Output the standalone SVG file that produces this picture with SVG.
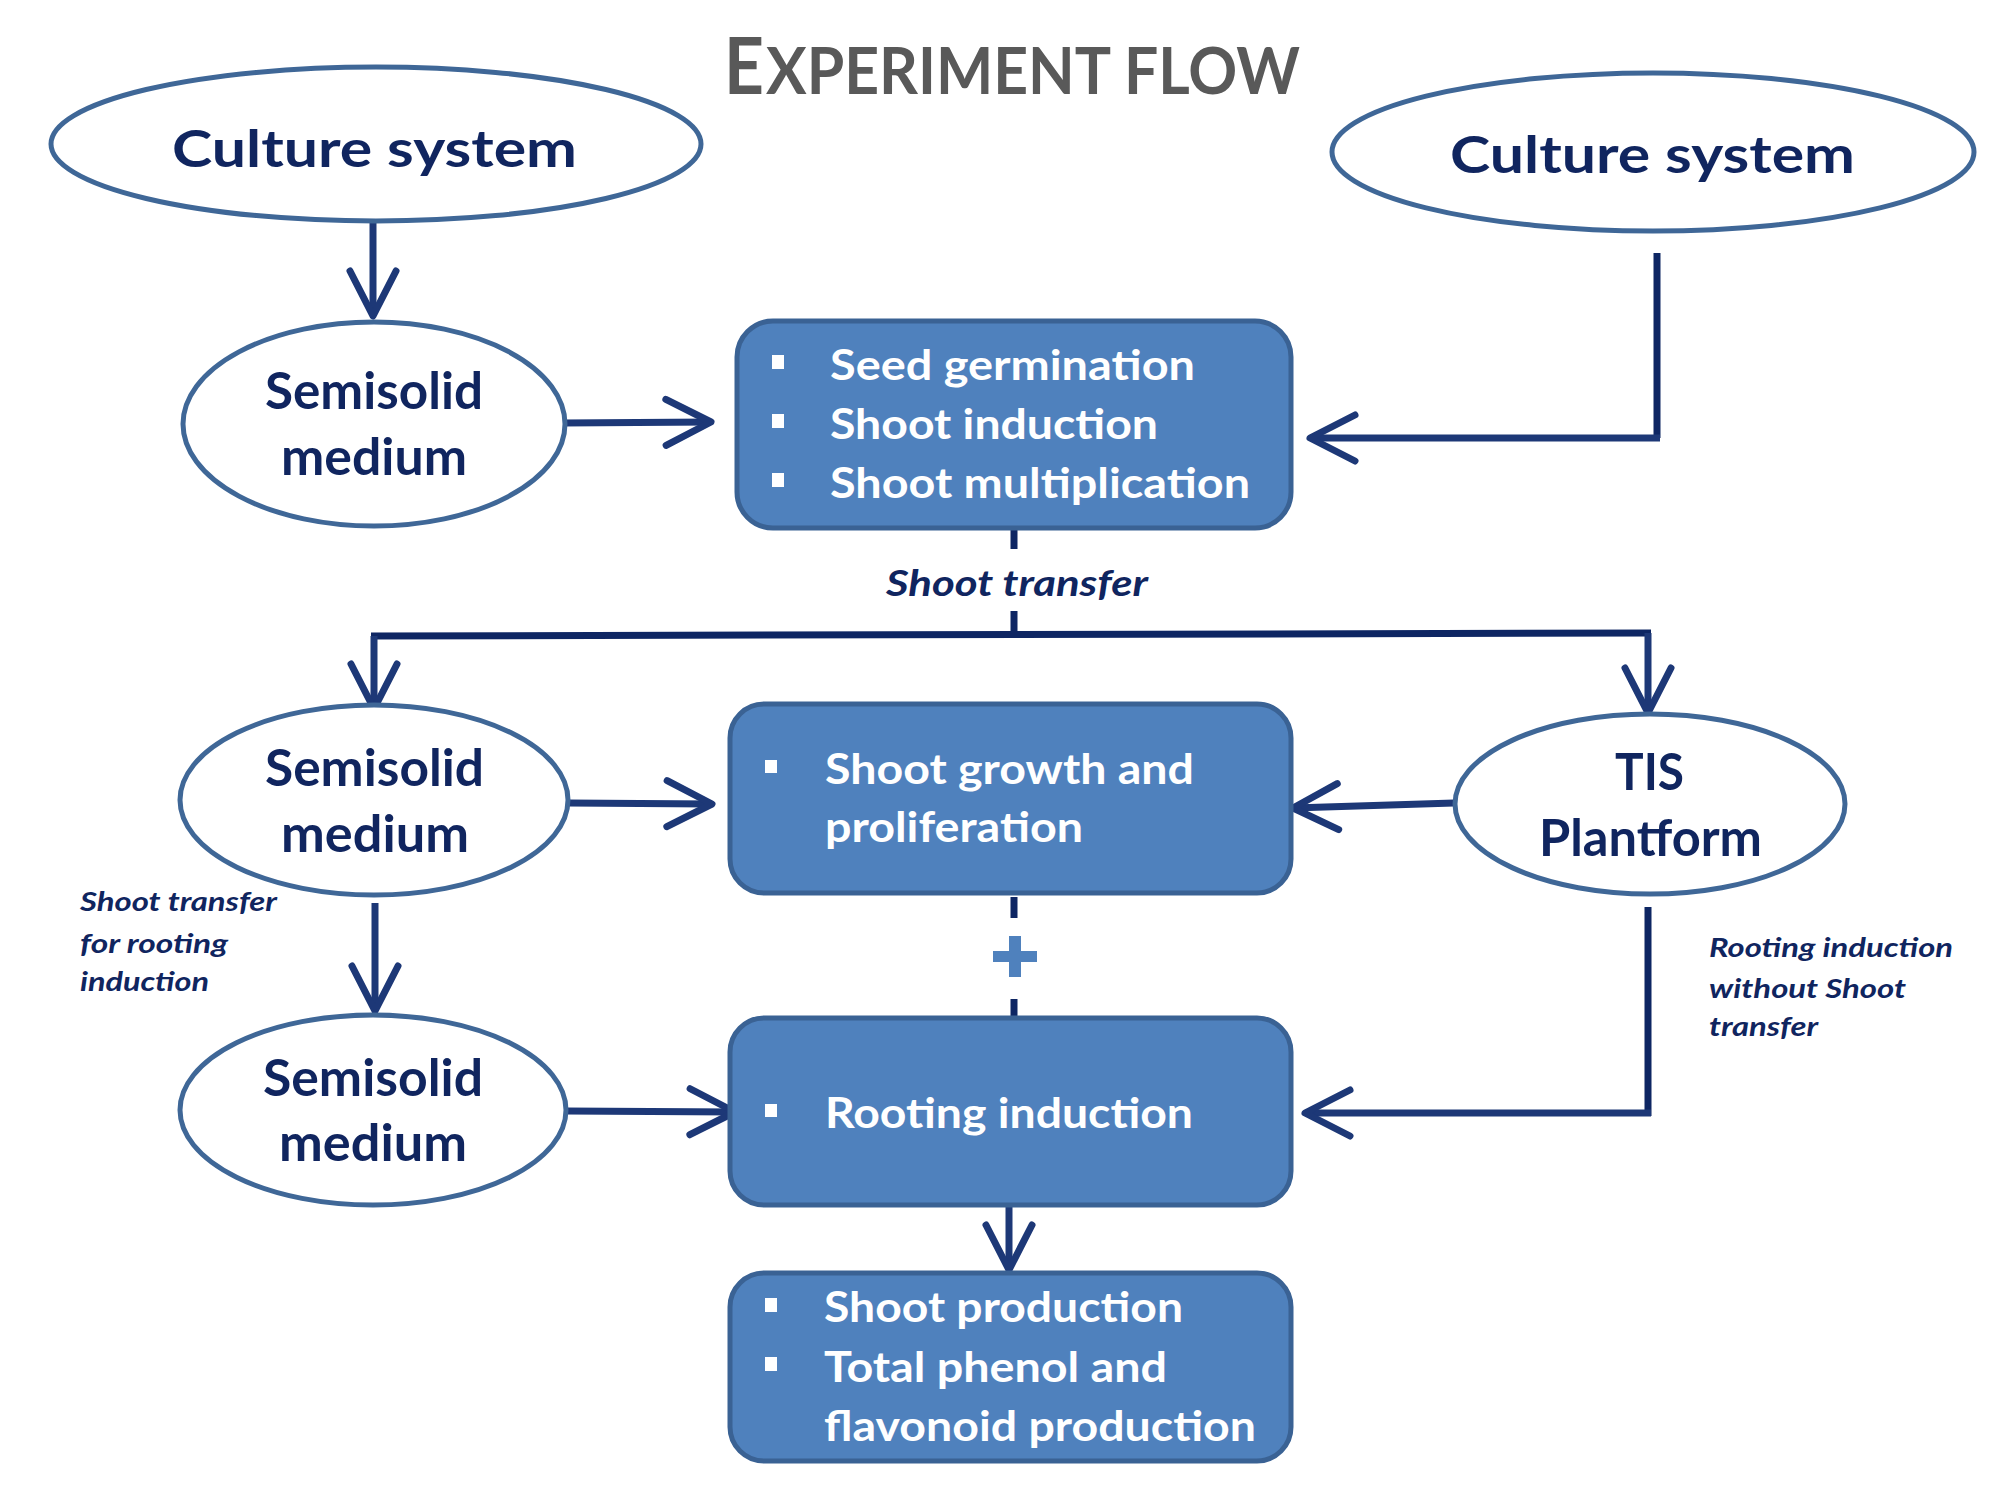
<svg xmlns="http://www.w3.org/2000/svg" width="2000" height="1500" viewBox="0 0 2000 1500">
<style>
.ell{fill:#ffffff;stroke:#3F6797;stroke-width:5}
.box{fill:#4F81BD;stroke:#3A6294;stroke-width:5}
.nt{font-family:Lato,"Open Sans","Liberation Sans",sans-serif;font-weight:bold;font-size:51px;fill:#10255F}
.bt{font-family:Lato,"Open Sans","Liberation Sans",sans-serif;font-weight:bold;font-size:42px;fill:#ffffff}
.lab{font-family:Lato,"Open Sans","Liberation Sans",sans-serif;font-weight:bold;font-style:italic;fill:#10255F}
.ttl{font-family:Lato,"Open Sans","Liberation Sans",sans-serif;font-weight:bold;fill:#595959}
.bul{fill:#ffffff}
.ln{fill:none;stroke:#0E2663;stroke-width:7}
.ar{fill:none;stroke:#1D3877;stroke-width:7;marker-end:url(#ah)}
.dash{fill:none;stroke:#0E2663;stroke-width:7}
</style>
<defs>
<marker id="ah" markerUnits="userSpaceOnUse" markerWidth="70" markerHeight="70" viewBox="-55 -35 70 70" refX="0" refY="0" orient="auto" overflow="visible">
<path d="M-45,-23 L0,0 L-45,23" fill="none" stroke="#1D3877" stroke-width="7" stroke-linecap="round" stroke-linejoin="round"/>
</marker>
</defs>
<rect x="0" y="0" width="2000" height="1500" fill="#ffffff"/>

<g id="title">
<text class="ttl" x="724" y="94" font-size="78" textLength="40" lengthAdjust="spacingAndGlyphs">E</text>
<text class="ttl" x="766" y="94" font-size="65" textLength="534" lengthAdjust="spacingAndGlyphs">XPERIMENT FLOW</text>
</g>

<g id="connectors">
<path class="ar" d="M373,223 L373,316"/>
<path class="ar" d="M563,423 L711,422"/>
<path class="ln" d="M1657,253 L1657,438"/>
<path class="ar" d="M1660,438 L1310,438"/>
<path class="dash" d="M1014,528 L1014,549"/>
<path class="dash" d="M1014,611 L1014,634"/>
<path class="ln" d="M371,636 L1651,633"/>
<path class="ar" d="M374,636 L374,709"/>
<path class="ar" d="M1648,633 L1648,713"/>
<path class="ar" d="M568,803 L712,804"/>
<path class="ar" d="M1454,803 L1293,808"/>
<path class="ar" d="M375,903 L375,1011"/>
<path class="ar" d="M566,1111 L735,1112"/>
<path class="ln" d="M1648,907 L1648,1116"/>
<path class="ar" d="M1651,1113 L1305,1113"/>
<path class="dash" d="M1014,897 L1014,918"/>
<path class="dash" d="M1014,999 L1014,1019"/>
<path class="ar" d="M1009,1207 L1009,1270"/>
<g id="plus" fill="#4F81BD">
<rect x="993" y="951" width="44" height="11"/>
<rect x="1009" y="936" width="12" height="41"/>
</g>
</g>

<g id="culture-left">
<ellipse class="ell" cx="376" cy="144" rx="325" ry="77"/>
<text class="nt" x="172" y="167" textLength="405" lengthAdjust="spacingAndGlyphs">Culture system</text>
</g>

<g id="culture-right">
<ellipse class="ell" cx="1653" cy="152" rx="321" ry="79"/>
<text class="nt" x="1450" y="173" textLength="405" lengthAdjust="spacingAndGlyphs">Culture system</text>
</g>

<g id="semisolid-1">
<ellipse class="ell" cx="374" cy="424" rx="191" ry="102"/>
<text class="nt" x="265" y="409" textLength="218" lengthAdjust="spacingAndGlyphs">Semisolid</text>
<text class="nt" x="281" y="475" textLength="186" lengthAdjust="spacingAndGlyphs">medium</text>
</g>

<g id="box-1">
<rect class="box" x="737" y="321" width="554" height="207" rx="36" ry="36"/>
<rect class="bul" x="772" y="355" width="12" height="14"/>
<rect class="bul" x="772" y="414" width="12" height="14"/>
<rect class="bul" x="772" y="473" width="12" height="14"/>
<text class="bt" x="830" y="380" textLength="365" lengthAdjust="spacingAndGlyphs">Seed germination</text>
<text class="bt" x="830" y="439" textLength="328" lengthAdjust="spacingAndGlyphs">Shoot induction</text>
<text class="bt" x="830" y="498" textLength="420" lengthAdjust="spacingAndGlyphs">Shoot multiplication</text>
</g>

<g id="shoot-transfer-label">
<text class="lab" x="886" y="596" font-size="36" textLength="262" lengthAdjust="spacingAndGlyphs">Shoot transfer</text>
</g>

<g id="semisolid-2">
<ellipse class="ell" cx="374" cy="800" rx="194" ry="95"/>
<text class="nt" x="265" y="786" textLength="219" lengthAdjust="spacingAndGlyphs">Semisolid</text>
<text class="nt" x="281" y="852" textLength="188" lengthAdjust="spacingAndGlyphs">medium</text>
</g>

<g id="box-2">
<rect class="box" x="730" y="704" width="561" height="189" rx="34" ry="34"/>
<rect class="bul" x="765" y="760" width="12" height="13"/>
<text class="bt" x="825" y="784" textLength="369" lengthAdjust="spacingAndGlyphs">Shoot growth and</text>
<text class="bt" x="825" y="842" textLength="258" lengthAdjust="spacingAndGlyphs">proliferation</text>
</g>

<g id="tis">
<ellipse class="ell" cx="1650" cy="804" rx="195" ry="90"/>
<text class="nt" x="1615" y="790" textLength="69" lengthAdjust="spacingAndGlyphs">TIS</text>
<text class="nt" x="1539" y="856" textLength="223" lengthAdjust="spacingAndGlyphs">Plantform</text>
</g>

<g id="label-left">
<text class="lab" x="80" y="911" font-size="27" textLength="197" lengthAdjust="spacingAndGlyphs">Shoot transfer</text>
<text class="lab" x="80" y="953" font-size="27" textLength="148" lengthAdjust="spacingAndGlyphs">for rooting</text>
<text class="lab" x="80" y="991" font-size="27" textLength="129" lengthAdjust="spacingAndGlyphs">induction</text>
</g>

<g id="label-right">
<text class="lab" x="1709" y="957" font-size="27" textLength="244" lengthAdjust="spacingAndGlyphs">Rooting induction</text>
<text class="lab" x="1709" y="998" font-size="27" textLength="197" lengthAdjust="spacingAndGlyphs">without Shoot</text>
<text class="lab" x="1709" y="1036" font-size="27" textLength="109" lengthAdjust="spacingAndGlyphs">transfer</text>
</g>

<g id="semisolid-3">
<ellipse class="ell" cx="373" cy="1110" rx="193" ry="95"/>
<text class="nt" x="263" y="1096" textLength="220" lengthAdjust="spacingAndGlyphs">Semisolid</text>
<text class="nt" x="279" y="1161" textLength="188" lengthAdjust="spacingAndGlyphs">medium</text>
</g>

<g id="box-3">
<rect class="box" x="730" y="1018" width="561" height="187" rx="34" ry="34"/>
<rect class="bul" x="765" y="1104" width="12" height="13"/>
<text class="bt" x="825" y="1128" textLength="368" lengthAdjust="spacingAndGlyphs">Rooting induction</text>
</g>

<g id="box-4">
<rect class="box" x="730" y="1273" width="561" height="188" rx="34" ry="34"/>
<rect class="bul" x="765" y="1298" width="12" height="14"/>
<rect class="bul" x="765" y="1357" width="12" height="14"/>
<text class="bt" x="824" y="1322" textLength="359" lengthAdjust="spacingAndGlyphs">Shoot production</text>
<text class="bt" x="824" y="1382" textLength="343" lengthAdjust="spacingAndGlyphs">Total phenol and</text>
<text class="bt" x="824" y="1441" textLength="432" lengthAdjust="spacingAndGlyphs">flavonoid production</text>
</g>
</svg>
